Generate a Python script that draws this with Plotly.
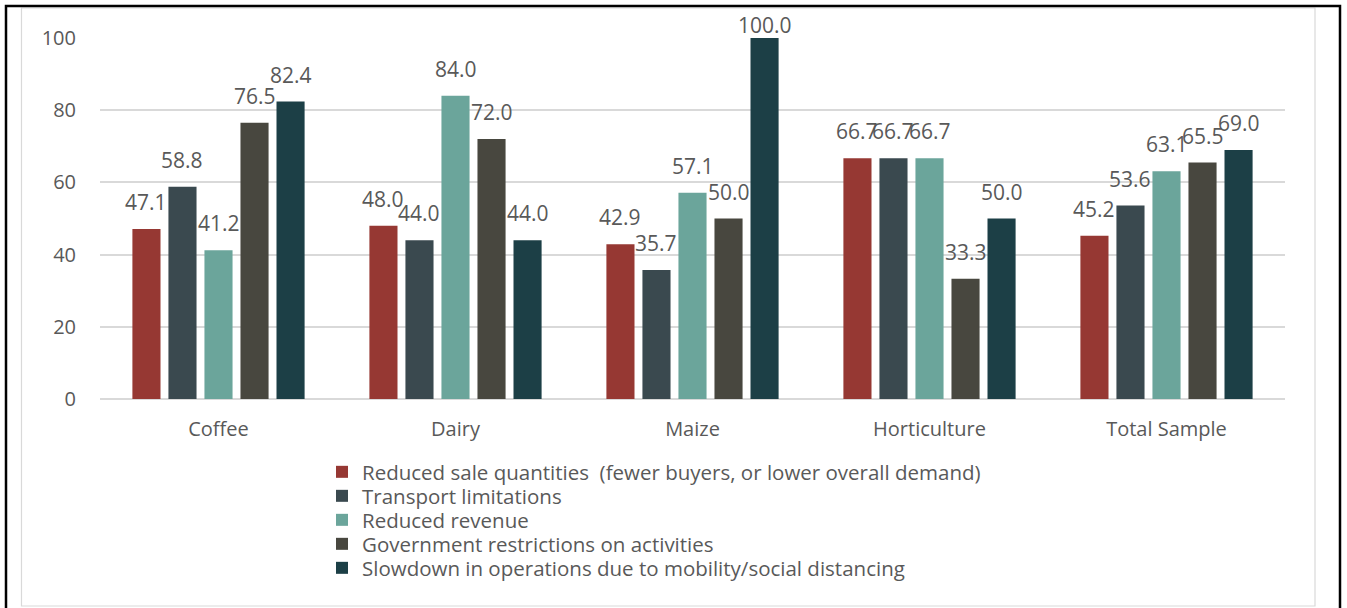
import plotly.graph_objects as go

categories = ["Coffee", "Dairy", "Maize", "Horticulture", "Total Sample"]
series_names = [
    "Reduced sale quantities  (fewer buyers, or lower overall demand)",
    "Transport limitations",
    "Reduced revenue",
    "Government restrictions on activities",
    "Slowdown in operations due to mobility/social distancing",
]
reduced_sale = [47.1, 48.0, 42.9, 66.7, 45.2]
transport = [58.8, 44.0, 35.7, 66.7, 53.6]
reduced_revenue = [41.2, 84.0, 57.1, 66.7, 63.1]
government = [76.5, 72.0, 50.0, 33.3, 65.5]
slowdown = [82.4, 44.0, 100.0, 50.0, 69.0]
y_ticks = [0, 20, 40, 60, 80, 100]
Y_MAX = 100

colors = ["#963833", "#3A494F", "#6BA59B", "#48473F", "#1C3F46"]
series_values = [reduced_sale, transport, reduced_revenue, government, slowdown]

FONT = "Open Sans"
GRAY = "#595959"
FS_TICK = 20
FS_LABEL = 21
FS_LEGEND = 20.5
BARGAP = 0.24
BARGROUPGAP = 0.22

W, H = 1347, 608
L, R, T, B = 100, 1285, 38, 399


def px(x):
    return (x - L) / (R - L)


def py(y):
    return (B - y) / (B - T)


n = len(series_values)
slot = (1 - BARGAP) / n

fig = go.Figure()
annotations = []
legend_layouts = {}
for i, (name, vals, col) in enumerate(zip(series_names, series_values, colors)):
    leg = "legend" if i == 0 else f"legend{i + 1}"
    fig.add_trace(go.Bar(
        x=categories, y=vals, name=name,
        marker=dict(color=col, line=dict(width=0)),
        legend=leg,
    ))
    legend_layouts[leg] = dict(
        x=px(322), y=py(472 + 24 * i), xanchor="left", yanchor="middle",
        font=dict(family=FONT, size=FS_LEGEND, color=GRAY),
        bgcolor="rgba(0,0,0,0)", itemwidth=30,
    )
    offset = (i - (n - 1) / 2) * slot
    for j, v in enumerate(vals):
        annotations.append(dict(
            x=j + offset, y=v, xref="x", yref="y",
            text=f"{v:.1f}", showarrow=False,
            xanchor="center", yanchor="bottom",
            yshift=11 if v < Y_MAX else -3,
            font=dict(family=FONT, size=FS_LABEL, color=GRAY),
        ))

fig.update_layout(
    width=W, height=H,
    margin=dict(l=L, r=W - R, t=T, b=H - B, autoexpand=False),
    paper_bgcolor="white", plot_bgcolor="white",
    barmode="group", bargap=BARGAP, bargroupgap=BARGROUPGAP,
    font=dict(family=FONT, size=FS_TICK, color=GRAY),
    showlegend=True,
    xaxis=dict(
        showgrid=False, showline=False, ticks="", zeroline=False,
        tickfont=dict(family=FONT, size=FS_TICK, color=GRAY),
        ticklabelstandoff=16,
    ),
    yaxis=dict(
        range=[0, Y_MAX], tickvals=y_ticks,
        showgrid=True, gridcolor="#D9D9D9", gridwidth=1.5,
        zeroline=True, zerolinecolor="#D9D9D9", zerolinewidth=1.5,
        showline=False, ticks="",
        tickfont=dict(family=FONT, size=FS_TICK, color=GRAY),
        ticklabelstandoff=23,
    ),
    annotations=annotations,
    shapes=[
        dict(type="rect", xref="paper", yref="paper",
             x0=px(21.5), x1=px(1315), y0=py(606), y1=py(8),
             line=dict(color="#D9D9D9", width=1.2), fillcolor="rgba(0,0,0,0)", layer="below"),
        dict(type="rect", xref="paper", yref="paper",
             x0=px(6), x1=px(1340), y0=py(620), y1=py(6),
             line=dict(color="black", width=2.5), fillcolor="rgba(0,0,0,0)"),
    ],
    **legend_layouts,
)

fig.write_html(
    "out.html",
    config={"displayModeBar": False},
    post_script="document.body.style.margin='0';document.body.style.overflow='hidden';",
)
